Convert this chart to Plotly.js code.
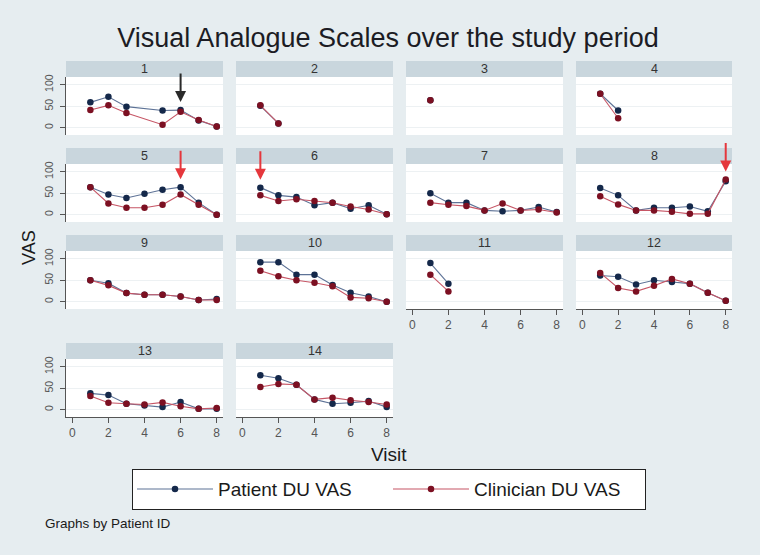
<!DOCTYPE html>
<html><head><meta charset="utf-8">
<script src="https://cdn.plot.ly/plotly-3.0.1.min.js"></script>
<style>html,body{margin:0;padding:0;background:#e6edf0;} #chart{width:760px;height:555px;}</style>
</head><body><div id="chart"></div>
<script>
// ---- data ----
const visits = [1, 2, 3, 4, 5, 6, 7, 8];
const panelLabels = ['1','2','3','4','5','6','7','8','9','10','11','12','13','14'];
const patient1 = [59, 72, 49, null, 40, 41, 17, 3];
const clinician1 = [41, 52, 34, null, 7, 37, 18, 3];
const patient2 = [51, 10, null, null, null, null, null, null];
const clinician2 = [52, 10, null, null, null, null, null, null];
const patient3 = [64, null, null, null, null, null, null, null];
const clinician3 = [64, null, null, null, null, null, null, null];
const patient4 = [79, 40, null, null, null, null, null, null];
const clinician4 = [79, 22, null, null, null, null, null, null];
const patient5 = [64, 47, 39, 49, 58, 64, 28, 0];
const clinician5 = [64, 26, 16, 16, 23, 47, 23, 0];
const patient6 = [63, 45, 41, 22, 28, 14, 22, 1];
const clinician6 = [45, 32, 36, 32, 28, 19, 12, 1];
const patient7 = [50, 28, 28, 10, 8, 10, 18, 6];
const clinician7 = [28, 23, 20, 10, 26, 10, 12, 5];
const patient8 = [62, 45, 10, 16, 16, 19, 8, 78];
const clinician8 = [43, 24, 10, 10, 7, 2, 2, 82];
const patient9 = [50, 43, 20, 16, 16, 12, 4, 6];
const clinician9 = [50, 38, 20, 16, 16, 12, 4, 4];
const patient10 = [92, 92, 63, 63, 39, 21, 12, 0];
const clinician10 = [72, 59, 50, 44, 36, 10, 8, 0];
const patient11 = [90, 42, null, null, null, null, null, null];
const clinician11 = [63, 24, null, null, null, null, null, null];
const patient12 = [61, 58, 40, 50, 46, 42, 21, 2];
const clinician12 = [67, 32, 24, 37, 53, 42, 21, 2];
const patient13 = [38, 34, 14, 10, 6, 18, 2, 2];
const clinician13 = [32, 16, 14, 12, 17, 8, 2, 4];
const patient14 = [80, 73, 58, 24, 14, 16, 20, 6];
const clinician14 = [53, 60, 58, 24, 28, 22, 18, 12];
const xTickVals = [0, 2, 4, 6, 8];
const yTickVals = [0, 50, 100];
const arrowPanels = [1, 5, 6, 8];
const arrowVisits = [6, 6, 1, 8];
const arrowColors = ['#2a2a2a', '#e5373c', '#e5373c', '#e5373c'];

const patientSeries = [patient1, patient2, patient3, patient4, patient5, patient6, patient7,
  patient8, patient9, patient10, patient11, patient12, patient13, patient14];
const clinicianSeries = [clinician1, clinician2, clinician3, clinician4, clinician5, clinician6, clinician7,
  clinician8, clinician9, clinician10, clinician11, clinician12, clinician13, clinician14];

// ---- geometry (pixels) ----
const W = 760, H = 555;
const colX = [[66, 223], [236, 393], [406, 563], [576, 732]];
const rowY = [[61, 77, 135], [148, 164, 222], [235, 251, 309], [343, 359, 417]]; // strip top, plot top, plot bottom
const FONT = 'Liberation Sans, Arial, sans-serif';

const traces = [];
const layout = {
  width: W, height: H,
  margin: {l: 0, r: 0, t: 0, b: 0},
  paper_bgcolor: '#e6edf0',
  plot_bgcolor: '#ffffff',
  font: {family: FONT, color: '#333'},
  title: {text: 'Visual Analogue Scales over the study period', x: 388 / W, xanchor: 'center',
    y: 1 - 38 / H, yanchor: 'middle', yref: 'container', font: {size: 27, color: '#1c1c24', family: FONT}},
  showlegend: true,
  legend: {orientation: 'h', x: 389 / W, xanchor: 'center', y: 1 - 469 / H, yanchor: 'top',
    bgcolor: '#ffffff', bordercolor: '#222', borderwidth: 1.2,
    font: {size: 19, color: '#1a1a1a', family: FONT}, entrywidth: 165, itemwidth: 76},
  shapes: [], annotations: []
};

panelLabels.forEach((lab, i) => {
  const r = Math.floor(i / 4), c = i % 4, n = i + 1;
  const xs = n === 1 ? '' : String(n);
  const [x0, x1] = colX[c];
  const [st, pt, pb] = rowY[r];
  const bottom = n >= 11;
  layout['xaxis' + xs] = {
    domain: [x0 / W, x1 / W], anchor: 'y' + xs, range: [-0.35, 8.35],
    showgrid: false, zeroline: false,
    showline: bottom, linecolor: '#555', linewidth: 1,
    ticks: bottom ? 'outside' : '', ticklen: 5, tickcolor: '#555',
    tickvals: xTickVals, showticklabels: bottom,
    tickfont: {size: 12, color: '#555', family: FONT}, fixedrange: true
  };
  layout['yaxis' + xs] = {
    domain: [1 - pb / H, 1 - pt / H], anchor: 'x' + xs, range: [-17, 118],
    showgrid: true, gridcolor: '#edf1f3', gridwidth: 1, zeroline: false,
    showline: c === 0, linecolor: '#555', linewidth: 1,
    ticks: c === 0 ? 'outside' : '', ticklen: 5, tickcolor: '#555',
    tickvals: yTickVals, showticklabels: c === 0, tickangle: -90, ticklabelstandoff: 3,
    tickfont: {size: 10.5, color: '#555', family: FONT}, fixedrange: true
  };
  // strip
  layout.shapes.push({type: 'rect', xref: 'paper', yref: 'paper', x0: x0 / W, x1: x1 / W,
    y0: 1 - pt / H, y1: 1 - st / H, fillcolor: '#c9d6dd', line: {width: 0}, layer: 'below'});
  layout.annotations.push({xref: 'paper', yref: 'paper', x: (x0 + x1) / 2 / W, y: 1 - (st + pt) / 2 / H,
    text: lab, showarrow: false, xanchor: 'center', yanchor: 'middle',
    font: {size: 12.5, color: '#333', family: FONT}});

  traces.push({type: 'scatter', mode: 'lines+markers', x: visits, y: patientSeries[i],
    xaxis: 'x' + xs, yaxis: 'y' + xs, name: 'Patient DU VAS', legendgroup: 'p', showlegend: n === 1,
    connectgaps: true, cliponaxis: false,
    line: {color: '#5d7296', width: 1.1}, marker: {color: '#14284a', size: 6.5}});
  traces.push({type: 'scatter', mode: 'lines+markers', x: visits, y: clinicianSeries[i],
    xaxis: 'x' + xs, yaxis: 'y' + xs, name: 'Clinician DU VAS', legendgroup: 'c', showlegend: n === 1,
    connectgaps: true, cliponaxis: false,
    line: {color: '#c65565', width: 1.1}, marker: {color: '#7c1022', size: 6.5}});
});

// arrows marking events
arrowPanels.forEach((p, k) => {
  const xs = p === 1 ? '' : String(p);
  const v = arrowVisits[k];
  const yv = Math.max(patientSeries[p - 1][v - 1], clinicianSeries[p - 1][v - 1]);
  layout.annotations.push({xref: 'x' + xs, yref: 'y' + xs, x: v, y: yv, text: '',
    showarrow: true, ax: 0, ay: -38, standoff: 8, arrowhead: 2, arrowsize: 1.1, arrowwidth: 2,
    arrowcolor: arrowColors[k]});
});

// axis titles and note
layout.annotations.push({xref: 'paper', yref: 'paper', x: 389 / W, y: 1 - 454 / H, text: 'Visit',
  showarrow: false, xanchor: 'center', yanchor: 'middle', font: {size: 19, color: '#1a1a1a', family: FONT}});
layout.annotations.push({xref: 'paper', yref: 'paper', x: 29 / W, y: 1 - 248 / H, text: 'VAS',
  showarrow: false, textangle: -90, xanchor: 'center', yanchor: 'middle', font: {size: 18, color: '#1a1a1a', family: FONT}});
layout.annotations.push({xref: 'paper', yref: 'paper', x: 43 / W, y: 1 - 523 / H, text: 'Graphs by Patient ID',
  showarrow: false, xanchor: 'left', yanchor: 'middle', font: {size: 13.5, color: '#1a1a1a', family: FONT}});

Plotly.newPlot('chart', traces, layout, {displayModeBar: false, staticPlot: true});
</script></body></html>
